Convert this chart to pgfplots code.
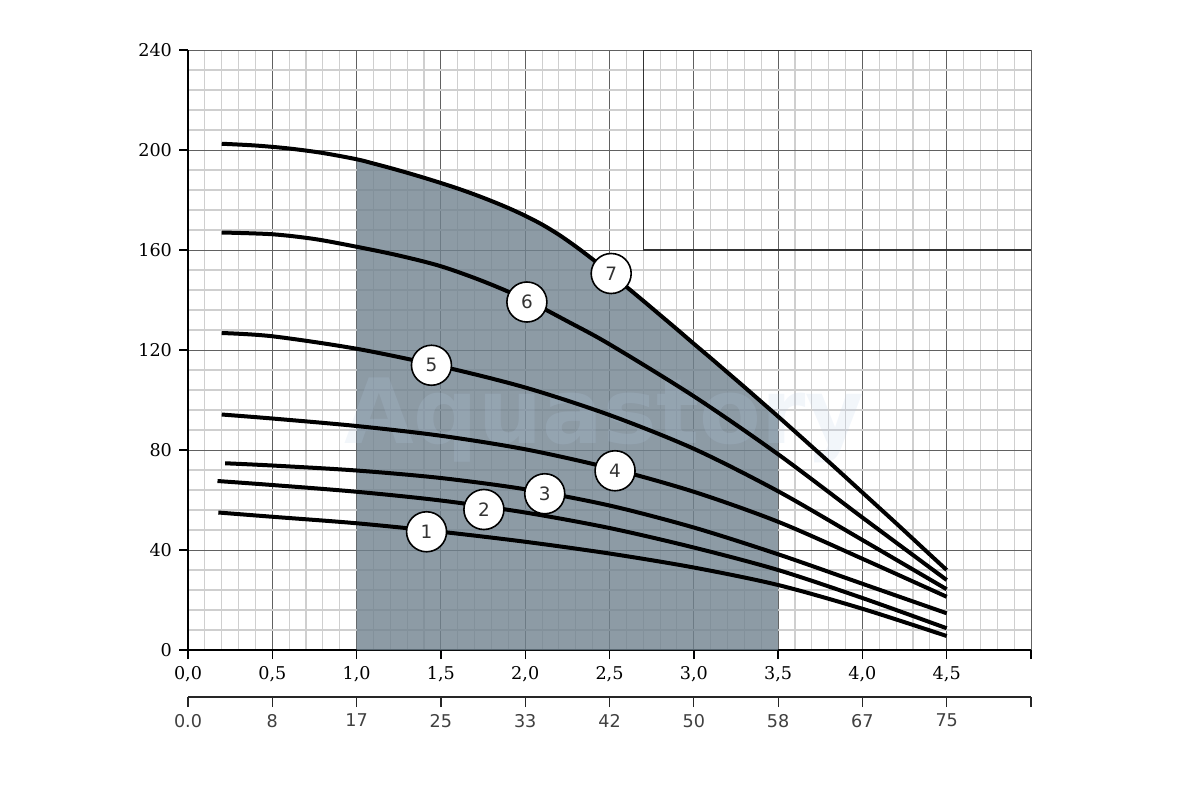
\documentclass[border=0pt]{standalone}
\usepackage{fontspec}
\setmainfont{DejaVu Serif}
\newfontfamily\sansf{DejaVu Sans}
\usepackage{pgfplots}
\usepackage{pgfplotstable}
\pgfplotsset{compat=1.18}
\definecolor{areacol}{RGB}{112,130,143}
\definecolor{wm}{RGB}{185,205,230}
% curve 7, read at every minor grid line
\pgfplotstableread{
x y
0.2 202.5
0.4 201.8
0.6 200.6
0.8 198.8
1.0 196.3
1.1 194.6
1.2 192.8
1.3 190.9
1.4 188.9
1.5 186.8
1.6 184.6
1.7 182.2
1.8 179.6
1.9 176.8
2.0 173.7
2.1 170.2
2.2 166.1
2.3 161.4
2.4 156.3
2.5 150.9
2.6 145.3
2.7 139.7
2.8 134.0
2.9 128.3
3.0 122.5
3.1 116.8
3.2 111.0
3.3 105.2
3.4 99.3
3.5 93.4
3.6 87.4
3.8 75.3
4.0 63.0
4.2 50.7
4.4 38.2
4.5 32.0
}\curveseven
% the same curve, inside the shaded range 1.0 ... 3.5
\pgfplotstableread{
x y
1.0 196.3
1.1 194.6
1.2 192.8
1.3 190.9
1.4 188.9
1.5 186.8
1.6 184.6
1.7 182.2
1.8 179.6
1.9 176.8
2.0 173.7
2.1 170.2
2.2 166.1
2.3 161.4
2.4 156.3
2.5 150.9
2.6 145.3
2.7 139.7
2.8 134.0
2.9 128.3
3.0 122.5
3.1 116.8
3.2 111.0
3.3 105.2
3.4 99.3
3.5 93.4
}\shaded
\begin{document}
\begin{tikzpicture}
\begin{axis}[name=ax, scale only axis, width=421.5pt, height=300pt,
  xmin=0, xmax=5, ymin=0, ymax=240,
  axis lines=left, axis line style={-, black, line width=0.8pt},
  xtick={0,0.5,1,1.5,2,2.5,3,3.5,4,4.5,5},
  xticklabels={{0,0},{0,5},{1,0},{1,5},{2,0},{2,5},{3,0},{3,5},{4,0},{4,5},{}},
  ytick={0,40,80,120,160,200,240},
  yticklabels={0,40,80,120,160,200,240},
  minor x tick num=4, minor y tick num=4,
  grid=both,
  major grid style={black!62, line width=0.5pt},
  minor grid style={black!19, line width=0.55pt},
  tick align=outside, major tick length=4.5pt, minor tick length=0pt,
  tick style={black, line width=0.7pt},
  ticklabel style={font=\fontsize{8.8}{10}\selectfont, text=black},
]
% shaded operating range (under curve 7, from 1.0 to 3.5)
\addplot[fill=areacol, fill opacity=0.8, draw=none, smooth, forget plot] table {\shaded} \closedcycle;
% upper-right frame
\addplot[draw=black!80, line width=0.7pt] coordinates {(5,240) (2.7,240) (2.7,160) (5,160)};
\node[text=wm, text opacity=0.18, font=\sansf\bfseries\fontsize{45}{50}\selectfont] at (axis cs:2.47,92) {Aquastory};
% curve 7
\addplot[black, line width=2pt, smooth] table {\curveseven};
% curve 6
\addplot[black, line width=2pt, smooth] coordinates {
(0.2,167)(0.5,166.3)(0.75,164.4)(1.0,161.3)(1.25,157.8)(1.5,153.5)(1.75,147.5)(2.0,140.3)(2.25,131.5)(2.5,122.3)(3.0,101.5)(3.5,78.3)(4.0,53)(4.5,28)};
% curve 5
\addplot[black, line width=2pt, smooth] coordinates {
(0.2,126.8)(0.5,125.5)(1.0,120.5)(1.5,113.5)(2.0,105)(2.5,94)(3.0,80.5)(3.5,63.5)(4.0,44)(4.5,24.3)};
% curve 4
\addplot[black, line width=2pt, smooth] coordinates {
(0.2,94.2)(0.5,92.6)(1.0,89.6)(1.5,85.7)(2.0,80.3)(2.5,72.8)(3.0,63.3)(3.5,51.3)(4.0,36.5)(4.5,21.3)};
% curve 3
\addplot[black, line width=2pt, smooth] coordinates {
(0.22,74.7)(0.5,73.8)(1.0,71.8)(1.5,68.8)(2.0,64.3)(2.5,57.8)(3.0,49)(3.5,38.3)(4.0,26.5)(4.5,14.7)};
% curve 2
\addplot[black, line width=2pt, smooth] coordinates {
(0.175,67.6)(0.5,66)(1.0,63.3)(1.5,59.8)(2.0,55)(2.5,48.8)(3.0,41)(3.5,32)(4.0,20.8)(4.5,8.7)};
% curve 1
\addplot[black, line width=2pt, smooth] coordinates {
(0.18,55)(0.5,53.3)(1.0,50.7)(1.5,47.3)(2.0,43.3)(2.5,38.6)(3.0,33)(3.5,26)(4.0,16.5)(4.5,5.6)};
% circled labels
\addplot[only marks, mark=*, mark size=10pt,
  mark options={fill=white, draw=black, line width=0.8pt},
  nodes near coords, point meta=explicit symbolic,
  nodes near coords style={anchor=center, font=\sansf\fontsize{9.2}{10}\selectfont, text=black!80}]
  table[meta=label] {
x y label
1.415 47.3 1
1.755 56.2 2
2.116 62.5 3
2.533 71.7 4
1.444 113.9 5
2.01 139.2 6
2.51 150.6 7
};
\end{axis}
\begin{axis}[at={(ax.south west)}, anchor=south west, yshift=-23.5pt,
  scale only axis, width=421.5pt, height=1pt,
  xmin=0, xmax=5, ymin=0, ymax=1,
  axis x line=bottom, axis y line=none,
  axis line style={-, black!85, line width=0.6pt},
  tick align=outside, major tick length=5pt,
  xtick={0,0.5,1,1.5,2,2.5,3,3.5,4,4.5,5},
  xticklabels={0.0,8,17,25,33,42,50,58,67,75,{}},
  tick style={black!85, line width=0.6pt},
  ticklabel style={font=\sansf\fontsize{8.8}{10}\selectfont, text=black!75},
]
\addplot[draw=none] coordinates {(0,0.5)};
\end{axis}
\path[use as bounding box] ([shift={(-94pt,-75pt)}]ax.south west) rectangle ([shift={(84.5pt,25pt)}]ax.north east);
\end{tikzpicture}
\end{document}
